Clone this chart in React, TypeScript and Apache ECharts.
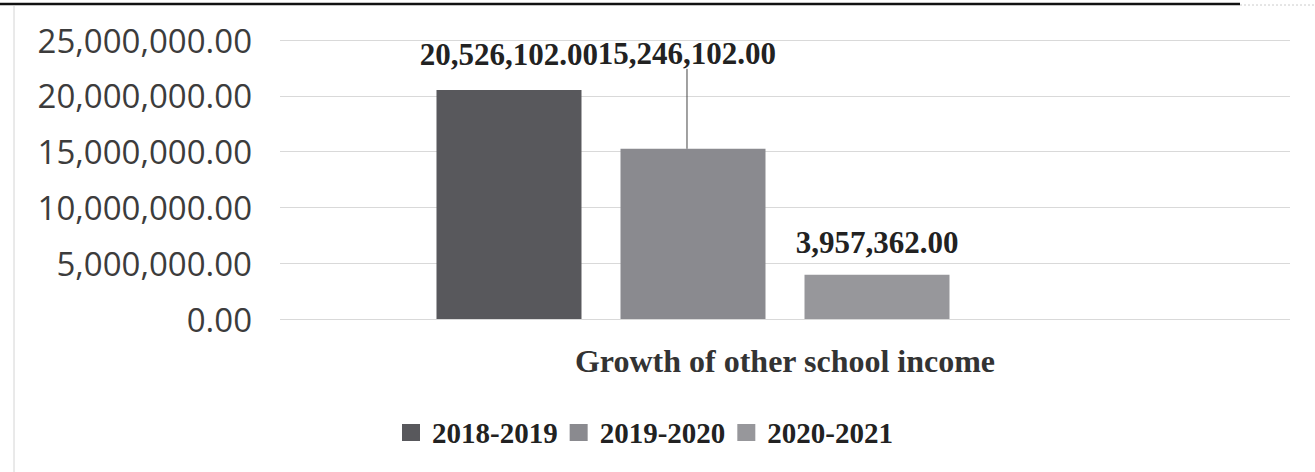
import React, { useEffect, useRef } from "react";
import * as echarts from "echarts";

const categories = ["Growth of other school income"];
const seriesNames = ["2018-2019", "2019-2020", "2020-2021"];
const seriesValues = [20526102, 15246102, 3957362];
const seriesColors = ["#58585c", "#8a8a8f", "#97979b"];
const yTicks = [0, 5000000, 10000000, 15000000, 20000000, 25000000];

const fmt = (v: number) =>
  v.toLocaleString("en-US", { minimumFractionDigits: 2, maximumFractionDigits: 2 });

const serif = "'Liberation Serif', 'Times New Roman', serif";

export default function App() {
  const ref = useRef<HTMLDivElement>(null);
  useEffect(() => {
    document.body.style.margin = "0";
    const chart = echarts.init(ref.current!, null, { renderer: "svg" });
    const labelDistances = [20, 20, 17];
    const series: any[] = seriesNames.map((name, i) => {
      const s: any = {
        name,
        type: "bar",
        data: [seriesValues[i]],
        barWidth: 145,
        barGap: "26.9%",
        itemStyle: { color: seriesColors[i] },
        label: {
          show: true,
          position: "top",
          distance: labelDistances[i],
          formatter: (p: any) => fmt(p.value),
          fontFamily: serif,
          fontWeight: "bold",
          fontSize: 31,
          color: "#222",
        },
      };
      if (i === 1) {
        s.labelLayout = { dx: -6, dy: -60 };
        s.labelLine = { show: true, lineStyle: { color: "#444", width: 1 } };
      }
      return s;
    });
    // empty placeholder slot (fourth series position, no data)
    series.push({
      name: "",
      type: "bar",
      data: [null],
      barWidth: 145,
      barGap: "26.9%",
      itemStyle: { color: "#aaaaaa" },
    });

    chart.setOption({
      animation: false,
      backgroundColor: "#ffffff",
      grid: { left: 280, right: 25, top: 40, bottom: 153, containLabel: false },
      legend: {
        data: seriesNames,
        left: 397,
        top: 413,
        icon: "rect",
        itemWidth: 18,
        itemHeight: 17,
        itemGap: 12,
        textStyle: {
          fontFamily: serif,
          fontWeight: "bold",
          fontSize: 29,
          color: "#222",
          padding: [0, 0, 0, 7],
        },
      },
      xAxis: {
        type: "category",
        data: categories,
        axisLine: { show: false },
        axisTick: { show: false },
        axisLabel: {
          margin: 26,
          fontFamily: serif,
          fontWeight: "bold",
          fontSize: 32,
          color: "#333",
        },
      },
      yAxis: {
        type: "value",
        min: yTicks[0],
        max: yTicks[yTicks.length - 1],
        interval: yTicks[1] - yTicks[0],
        axisLine: { show: false },
        axisTick: { show: false },
        splitLine: { lineStyle: { color: "#d9d9d9", width: 1 } },
        axisLabel: {
          margin: 28,
          formatter: (v: number) => fmt(v),
          fontFamily: "'Open Sans', sans-serif",
          fontSize: 33,
          color: "#3c3c3c",
        },
      },
      graphic: [
        {
          type: "line",
          shape: { x1: 0, y1: 4, x2: 1240, y2: 4 },
          style: { stroke: "#111", lineWidth: 2.5 },
        },
        {
          type: "line",
          shape: { x1: 1240, y1: 5, x2: 1315, y2: 5 },
          style: { stroke: "#cccccc", lineWidth: 1, lineDash: [2, 2] },
        },
        {
          type: "line",
          shape: { x1: 14, y1: 6, x2: 14, y2: 472 },
          style: { stroke: "#d4d4d4", lineWidth: 1 },
        },
      ],
      series,
    });
    return () => chart.dispose();
  }, []);
  return (
    <div
      ref={ref}
      style={{ position: "fixed", left: 0, top: 0, width: 1315, height: 472 }}
    />
  );
}
